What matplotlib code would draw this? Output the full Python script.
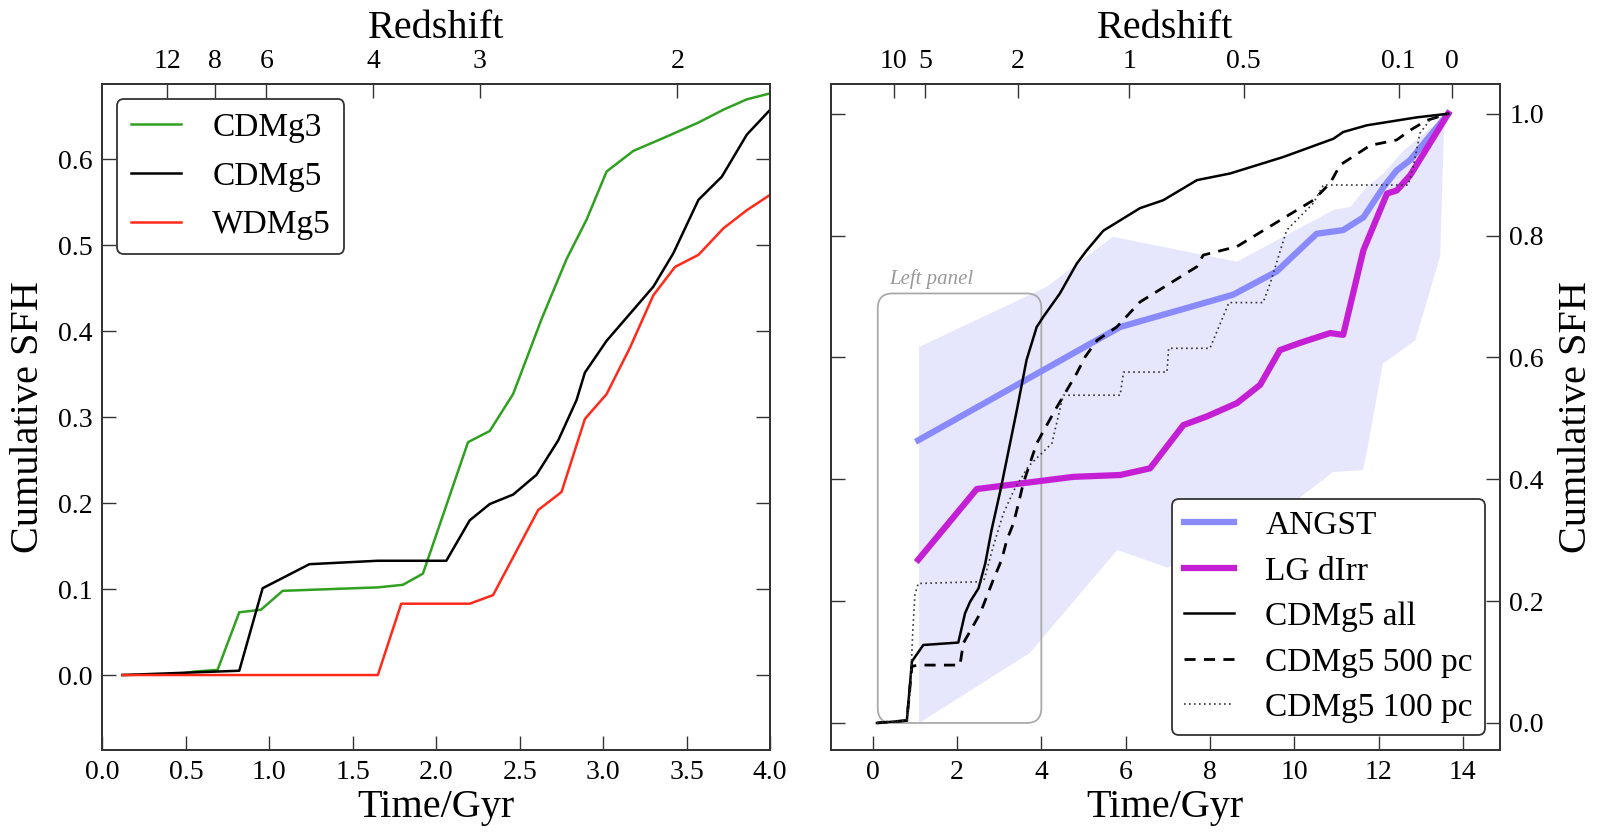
import numpy as np
import matplotlib
matplotlib.use('Agg')
import matplotlib.pyplot as plt
from matplotlib.patches import FancyBboxPatch

plt.rcParams['font.family'] = ['Liberation Serif', 'DejaVu Serif']
plt.rcParams['mathtext.fontset'] = 'custom'

# ---- left panel: first 4 Gyr ----
t_cdmg3 = [0.12, 0.45, 0.55, 0.69, 0.82, 0.95, 1.08, 1.65, 1.80, 1.92, 2.19, 2.32, 2.46,
           2.63, 2.78, 2.90, 3.02, 3.18, 3.36, 3.57, 3.72, 3.86, 4.0]
sfh_cdmg3 = [0.0, 0.001, 0.004, 0.006, 0.073, 0.076, 0.098, 0.102, 0.105, 0.118, 0.271, 0.284, 0.327,
             0.414, 0.484, 0.530, 0.586, 0.610, 0.625, 0.643, 0.658, 0.670, 0.677]

t_cdmg5 = [0.12, 0.82, 0.96, 1.24, 1.65, 2.06, 2.20, 2.32, 2.46, 2.60, 2.73, 2.84, 2.89,
           3.02, 3.30, 3.42, 3.57, 3.71, 3.86, 4.0]
sfh_cdmg5 = [0.0, 0.005, 0.101, 0.129, 0.133, 0.133, 0.180, 0.199, 0.210, 0.233, 0.273, 0.320, 0.352,
             0.389, 0.452, 0.491, 0.553, 0.580, 0.629, 0.658]

t_wdmg5 = [0.12, 1.65, 1.79, 2.20, 2.34, 2.61, 2.75, 2.89, 3.02, 3.16, 3.30, 3.43, 3.57, 3.72, 3.86, 4.0]
sfh_wdmg5 = [0.0, 0.0, 0.083, 0.083, 0.093, 0.192, 0.213, 0.298, 0.327, 0.381, 0.442, 0.475, 0.489,
             0.520, 0.541, 0.559]

# ---- right panel: whole history ----
t_angst = [1.08, 5.87, 7.29, 8.55, 9.58, 10.53, 11.16, 11.64, 12.12, 12.43, 12.75, 13.14, 13.65]
sfh_angst = [0.464, 0.650, 0.678, 0.703, 0.741, 0.803, 0.809, 0.830, 0.880, 0.907, 0.924, 0.957, 1.0]

t_band_hi = [1.1, 4.13, 5.7, 8.64, 10.93, 11.33, 11.72, 12.12, 12.6, 13.65]
band_hi = [0.617, 0.716, 0.798, 0.757, 0.842, 0.847, 0.880, 0.902, 0.940, 1.0]
t_band_lo = [1.1, 3.73, 5.8, 7.0, 10.06, 10.92, 11.63, 11.73, 12.1, 12.87, 13.46, 13.55, 13.65]
band_lo = [0.0, 0.115, 0.284, 0.255, 0.366, 0.412, 0.415, 0.448, 0.590, 0.628, 0.766, 0.970, 1.0]

t_lg = [1.08, 2.47, 4.76, 5.87, 6.58, 7.37, 7.92, 8.64, 9.19, 9.66, 10.14, 10.85, 11.16, 11.64,
        12.2, 12.43, 12.75, 13.65]
sfh_lg = [0.268, 0.384, 0.404, 0.407, 0.418, 0.489, 0.503, 0.525, 0.555, 0.612, 0.624, 0.640, 0.637,
          0.776, 0.869, 0.874, 0.899, 1.0]

t_all = [0.1, 0.81, 0.93, 1.2, 2.03, 2.19, 2.31, 2.51, 2.67, 2.82, 3.04, 3.42, 3.65, 3.89, 4.05,
         4.44, 4.84, 5.08, 5.47, 6.34, 6.89, 7.69, 8.48, 9.74, 10.93, 11.16, 11.72, 12.9, 13.65]
sfh_all = [0.0, 0.004, 0.101, 0.128, 0.132, 0.180, 0.199, 0.221, 0.262, 0.317, 0.385, 0.514, 0.596,
           0.650, 0.667, 0.705, 0.754, 0.776, 0.808, 0.845, 0.858, 0.891, 0.902, 0.929, 0.959, 0.970,
           0.981, 0.994, 1.0]

t_500 = [0.1, 0.81, 0.93, 1.08, 2.07, 2.15, 2.55, 2.86, 3.06, 3.18, 3.34, 3.46, 3.57, 3.73, 3.89,
         4.33, 4.56, 4.84, 5.04, 5.32, 5.79, 6.34, 7.69, 7.84, 8.64, 9.66, 10.45, 10.85, 11.09, 11.8,
         12.43, 12.75, 13.14, 13.65]
sfh_500 = [0.0, 0.004, 0.093, 0.095, 0.095, 0.131, 0.180, 0.235, 0.268, 0.300, 0.328, 0.361, 0.393,
           0.426, 0.459, 0.514, 0.541, 0.574, 0.601, 0.628, 0.650, 0.691, 0.749, 0.768, 0.782, 0.825,
           0.858, 0.886, 0.916, 0.948, 0.957, 0.973, 0.989, 1.0]

t_100 = [0.1, 0.81, 0.89, 0.95, 1.0, 1.08, 2.63, 2.86, 3.1, 3.35, 3.69, 4.25, 4.52, 5.87, 5.95,
         6.98, 7.02, 8.0, 8.45, 9.26, 9.43, 9.82, 10.45, 10.69, 12.7, 12.82, 12.98, 13.22, 13.65]
sfh_100 = [0.0, 0.004, 0.05, 0.15, 0.21, 0.229, 0.232, 0.290, 0.344, 0.382, 0.421, 0.459, 0.538,
           0.538, 0.576, 0.576, 0.615, 0.615, 0.690, 0.690, 0.722, 0.809, 0.853, 0.883, 0.883, 0.912,
           0.968, 0.990, 1.0]

z_ticks_left = [12, 8, 6, 4, 3, 2]
z_ticks_right = [10, 5, 2, 1, 0.5, 0.1, 0]


def age_at(z, h0=73.0, om=0.24):
	# flat LCDM age of the universe in Gyr
	ol = 1.0 - om
	th = 977.8 / h0
	z = np.asarray(z, dtype=float)
	return 2.0 * th / (3.0 * np.sqrt(ol)) * np.arcsinh(np.sqrt(ol / om) * (1.0 + z) ** -1.5)


def zlabel(z):
	return '%g' % z


def style_axes(ax):
	for s in ax.spines.values():
		s.set_color('#333333')
		s.set_linewidth(1.3)
	ax.tick_params(direction='in', length=10, width=1.0, color='#333333', labelsize=20, pad=7)


def style_legend(leg):
	leg.get_frame().set_edgecolor('#333333')
	leg.get_frame().set_linewidth(1.3)
	leg.get_frame().set_alpha(1)


fig = plt.figure(figsize=(16.04, 8.33), dpi=100)
axl = fig.add_axes([0.0638, 0.0999, 0.4164, 0.7994])
axr = fig.add_axes([0.5178, 0.0999, 0.4171, 0.7994])

# left panel
axl.plot(t_cdmg3, sfh_cdmg3, color='#30a020', lw=1.8, label='CDMg3')
axl.plot(t_cdmg5, sfh_cdmg5, color='black', lw=1.8, label='CDMg5')
axl.plot(t_wdmg5, sfh_wdmg5, color='#ff2a1a', lw=1.8, label='WDMg5')
axl.set_xlim(0, 4)
axl.set_ylim(-0.087, 0.688)
axl.set_xticks(np.arange(0, 4.01, 0.5))
axl.set_yticks(np.arange(0, 0.61, 0.1))
axl.xaxis.set_major_formatter(matplotlib.ticker.FormatStrFormatter('%.1f'))
axl.yaxis.set_major_formatter(matplotlib.ticker.FormatStrFormatter('%.1f'))
style_axes(axl)
axl.tick_params(right=True, top=False)
axl.set_xlabel('Time/Gyr', fontsize=29, labelpad=3)
axl.set_ylabel('Cumulative SFH', fontsize=29, labelpad=8)
leg = axl.legend(loc='upper left', fontsize=24, frameon=True, fancybox=True, borderaxespad=0.45,
                 handlelength=1.5, handletextpad=0.95, labelspacing=0.55, borderpad=0.4)
style_legend(leg)

topl = axl.twiny()
topl.set_xlim(axl.get_xlim())
topl.set_xticks(age_at(z_ticks_left))
topl.set_xticklabels([zlabel(z) for z in z_ticks_left])
style_axes(topl)
topl.set_xlabel('Redshift', fontsize=29, labelpad=8)

# right panel
axr.fill(np.concatenate([t_band_hi, t_band_lo[::-1]]), np.concatenate([band_hi, band_lo[::-1]]),
         color='#e6e6fc', lw=0, zorder=1)
axr.plot(t_angst, sfh_angst, color='#8a8aff', lw=4.5, label='ANGST', zorder=3)
axr.plot(t_lg, sfh_lg, color='#c41fd4', lw=4.5, label='LG dIrr', zorder=3)
axr.plot(t_all, sfh_all, color='black', lw=1.8, label='CDMg5 all', zorder=4)
axr.plot(t_500, sfh_500, color='black', lw=2.0, ls=(0, (4, 3)), label='CDMg5 500 pc', zorder=4)
axr.plot(t_100, sfh_100, color='#333333', lw=1.2, ls=(0, (1, 2)), label='CDMg5 100 pc', zorder=4)
axr.set_xlim(-1, 14.87)
axr.set_ylim(-0.044, 1.049)
axr.set_xticks(np.arange(0, 15, 2))
axr.set_yticks(np.arange(0, 1.01, 0.2))
axr.yaxis.set_major_formatter(matplotlib.ticker.FormatStrFormatter('%.1f'))
style_axes(axr)
axr.yaxis.tick_right()
axr.tick_params(left=True, right=True, labelleft=False, labelright=True, top=False)
axr.yaxis.set_label_position('right')
axr.set_xlabel('Time/Gyr', fontsize=29, labelpad=3)
axr.set_ylabel('Cumulative SFH', fontsize=29, labelpad=10)
leg = axr.legend(loc='lower right', fontsize=24, frameon=True, fancybox=True, borderaxespad=0.45,
                 handlelength=1.5, handletextpad=0.95, labelspacing=0.45, borderpad=0.35)
style_legend(leg)
leg.set_zorder(10)

topr = axr.twiny()
topr.set_xlim(axr.get_xlim())
topr.set_xticks(age_at(z_ticks_right))
topr.set_xticklabels([zlabel(z) for z in z_ticks_right])
style_axes(topr)
topr.tick_params(right=False, left=False)
topr.set_xlabel('Redshift', fontsize=29, labelpad=8)

# box marking the range of the left panel
p0 = axr.transData.transform((0, 0))
p1 = axr.transData.transform((1, 1))
aspect = (p1[0] - p0[0]) / (p1[1] - p0[1])
box = FancyBboxPatch((0.12, 0.0), 3.88, 0.705, boxstyle='round,pad=0,rounding_size=0.35',
                     mutation_aspect=aspect, fc='none', ec='#aaaaaa', lw=1.3, zorder=2)
axr.add_patch(box)
axr.text(0.4, 0.72, 'Left panel', fontsize=15, style='italic', color='#999999', ha='left',
         va='baseline')

fig.savefig('out.png', dpi=100)
